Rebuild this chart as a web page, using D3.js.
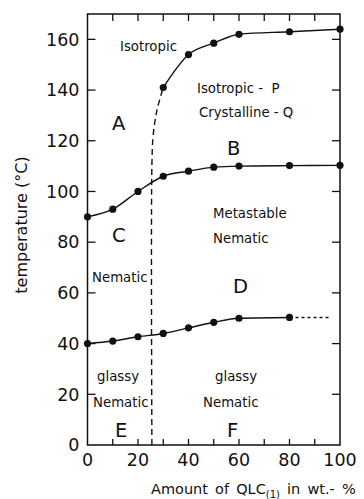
<!DOCTYPE html>
<html>
<head>
<meta charset="utf-8">
<script src="https://cdn.jsdelivr.net/npm/d3@7/dist/d3.min.js"></script>
<style>
  html, body { margin: 0; padding: 0; background: #fff; }
  svg { display: block; }
  text { font-family: "DejaVu Sans", sans-serif; fill: #111; }
</style>
</head>
<body>
<div id="chart"></div>
<script>
// Phase diagram: transition temperatures vs. QLC(1) content

// Isotropic clearing curve (upper)
const isoX = [30, 40, 50, 60, 80, 100];
const isoY = [141, 154, 158.5, 162, 163, 164];

// Extrapolated (dashed) boundary below the isotropic curve
const dashX = [25.5, 25.5, 26, 27.5, 30];
const dashY = [0, 110, 122, 132, 141];

// Nematic boundary (middle curve)
const nemX = [0, 10, 20, 30, 40, 50, 60, 80, 100];
const nemY = [90, 93, 100, 106, 108, 109.6, 110, 110.2, 110.3];

// Glass transition (lower curve) and its dotted continuation
const glassX = [0, 10, 20, 30, 40, 50, 60, 80];
const glassY = [40, 41, 42.7, 44, 46.2, 48.4, 50, 50.3];
const glassExtX = [80, 96];
const glassExtY = [50.3, 50.3];

const xTicks = [0, 20, 40, 60, 80, 100];
const xMinorTicks = [0, 10, 20, 30, 40, 50, 60, 70, 80, 90, 100];
const yTicks = [0, 20, 40, 60, 80, 100, 120, 140, 160];

const W = 364, H = 499;
const margin = { left: 87.5, right: 24, top: 14, bottom: 54 };

const svg = d3.select("#chart").append("svg")
  .attr("width", W).attr("height", H);

const x = d3.scaleLinear().domain([0, 100]).range([margin.left, W - margin.right]);
const y = d3.scaleLinear().domain([0, 170]).range([H - margin.bottom, margin.top]);

const ink = "#111";

// Frame
svg.append("rect")
  .attr("x", x(0)).attr("y", y(170))
  .attr("width", x(100) - x(0)).attr("height", y(0) - y(170))
  .attr("fill", "none").attr("stroke", ink).attr("stroke-width", 1.5);

// Inward ticks on all four sides
const tickG = svg.append("g").attr("stroke", ink).attr("stroke-width", 1.3);
tickG.selectAll(".tb").data(xMinorTicks.slice(1, -1)).join("line")
  .attr("x1", d => x(d)).attr("x2", d => x(d))
  .attr("y1", y(0)).attr("y2", y(0) - 6);
tickG.selectAll(".tt").data(xMinorTicks.slice(1, -1)).join("line")
  .attr("x1", d => x(d)).attr("x2", d => x(d))
  .attr("y1", y(170)).attr("y2", y(170) + 7);
tickG.selectAll(".tl").data(yTicks.slice(1)).join("line")
  .attr("x1", x(0)).attr("x2", x(0) + 8)
  .attr("y1", d => y(d)).attr("y2", d => y(d));
tickG.selectAll(".tr").data(yTicks.slice(1)).join("line")
  .attr("x1", x(100)).attr("x2", x(100) - 8)
  .attr("y1", d => y(d)).attr("y2", d => y(d));

// Tick labels
svg.append("g").selectAll("text").data(yTicks).join("text")
  .attr("x", x(0) - 8).attr("y", d => y(d)).attr("dy", "0.36em")
  .attr("text-anchor", "end").attr("font-size", 17.5)
  .text(d => d);
svg.append("g").selectAll("text").data(xTicks).join("text")
  .attr("x", d => x(d)).attr("y", y(0) + 21)
  .attr("text-anchor", "middle").attr("font-size", 17.5)
  .text(d => d);

// Axis titles
svg.append("text")
  .attr("transform", `translate(27, ${225}) rotate(-90)`)
  .attr("text-anchor", "middle").attr("font-size", 16)
  .text("temperature (°C)");

const xt = svg.append("text")
  .attr("x", 151).attr("y", 494).attr("font-size", 14.5)
  .attr("word-spacing", 2.5);
xt.append("tspan").text("Amount of QLC");
xt.append("tspan").attr("font-size", 10).attr("dy", 4).text("(1)");
xt.append("tspan").attr("dy", -4).text(" in wt.- %");

// Curves
const line = d3.line().x(d => x(d[0])).y(d => y(d[1])).curve(d3.curveMonotoneX);
const pts = (xs, ys) => xs.map((v, i) => [v, ys[i]]);

const curves = svg.append("g").attr("fill", "none").attr("stroke", ink).attr("stroke-width", 1.4);
curves.append("path").attr("d", line(pts(isoX, isoY)));
curves.append("path").attr("d", line(pts(nemX, nemY)));
curves.append("path").attr("d", line(pts(glassX, glassY)));
curves.append("path")
  .attr("d", d3.line().x(d => x(d[0])).y(d => y(d[1])).curve(d3.curveCatmullRom)(pts(dashX, dashY)))
  .attr("stroke-dasharray", "6,4");
curves.append("path").attr("d", line(pts(glassExtX, glassExtY)))
  .attr("stroke-dasharray", "3,3");

// Data points
const dots = svg.append("g").attr("fill", ink);
[[isoX, isoY], [nemX, nemY], [glassX, glassY]].forEach(([xs, ys]) => {
  dots.selectAll(null).data(pts(xs, ys)).join("circle")
    .attr("cx", d => x(d[0])).attr("cy", d => y(d[1])).attr("r", 3.6);
});

// Region annotations
const regionText = [
  { t: "Isotropic", x: 120, y: 51 },
  { t: "Isotropic -  P", x: 197, y: 93 },
  { t: "Crystalline - Q", x: 199, y: 117 },
  { t: "Metastable", x: 213, y: 218 },
  { t: "Nematic", x: 213, y: 243 },
  { t: "Nematic", x: 92, y: 282 },
  { t: "glassy", x: 97, y: 381 },
  { t: "Nematic", x: 93, y: 407 },
  { t: "glassy", x: 215, y: 381 },
  { t: "Nematic", x: 203, y: 407 }
];
svg.append("g").selectAll("text").data(regionText).join("text")
  .attr("x", d => d.x).attr("y", d => d.y).attr("font-size", 13.3)
  .attr("xml:space", "preserve")
  .style("white-space", "pre")
  .text(d => d.t);

const letters = [
  { t: "A", x: 112, y: 130 },
  { t: "B", x: 227, y: 155 },
  { t: "C", x: 112, y: 242 },
  { t: "D", x: 233, y: 293 },
  { t: "E", x: 115, y: 437 },
  { t: "F", x: 227, y: 437 }
];
svg.append("g").selectAll("text").data(letters).join("text")
  .attr("x", d => d.x).attr("y", d => d.y).attr("font-size", 19.5)
  .text(d => d.t);
</script>
</body>
</html>
